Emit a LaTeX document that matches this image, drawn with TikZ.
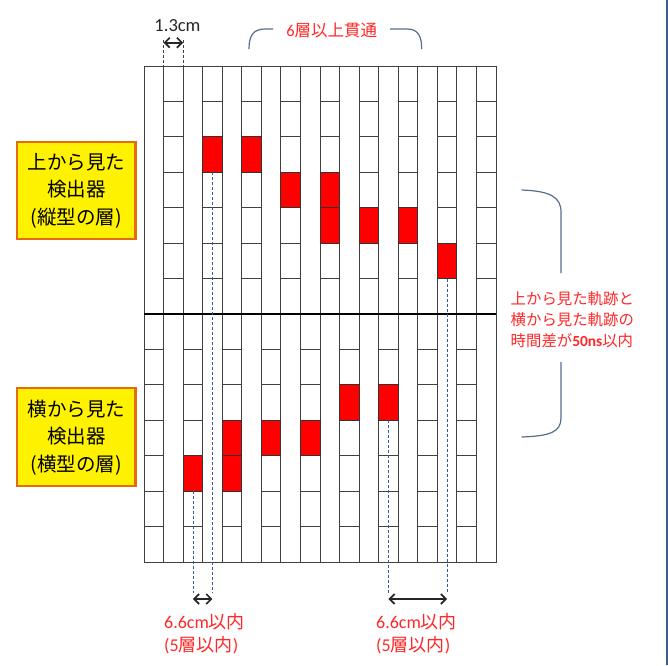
\documentclass[tikz,border=0pt]{standalone}
\usepackage{fontspec}
\newfontfamily\jp{Noto Sans CJK JP}
\newfontfamily\lat{Carlito}
\usetikzlibrary{arrows.meta}
\definecolor{boxorange}{RGB}{228,108,10}
\definecolor{braceblue}{RGB}{85,110,140}
\definecolor{dashblue}{RGB}{60,90,150}
\definecolor{txtred}{RGB}{255,40,40}
\definecolor{edgeblue}{RGB}{56,93,138}
\tikzset{
  gridline/.style={draw=black!75, line width=1pt},
  midline/.style={draw=black, line width=1.5pt},
  hit/.style={fill=red, draw=black!80, line width=1pt},
  track/.style={draw=dashblue, line width=0.7pt, dash pattern=on 3pt off 2pt},
  guide/.style={draw=black!75, line width=0.7pt, dash pattern=on 3pt off 2pt},
  dimarrow/.style={draw=black!85, line width=1.7pt, {Straight Barb[length=5pt,width=10pt]}-{Straight Barb[length=5pt,width=10pt]}},
  bracestyle/.style={draw=braceblue, line width=1.2pt},
  viewbox/.style={draw=boxorange, line width=2.2pt, fill=yellow, minimum width=118.5pt, minimum height=97pt, inner sep=0pt, align=center, font=\jp\fontsize{19.5}{27.5}\selectfont},
  redlabel/.style={text=txtred, inner sep=0pt, align=left}
}
\begin{document}
\begin{tikzpicture}[x=1pt,y=-1pt]
\useasboundingbox (0,0) rectangle (668,665);
\fill[white] (0,0) rectangle (668,665);
\fill[edgeblue] (666,0) rectangle (668,665);
\def\gx{144}\def\dx{19.5556}\def\gy{66}\def\dy{35.4286}\def\my{314}\def\by{562}\def\rx{496}
% vertical strips
\foreach \i in {0,...,18} \draw[gridline] ({\gx+\i*\dx},\gy) -- ({\gx+\i*\dx},\by);
% top half cells (vertical layers)
\foreach \c in {1,3,...,17} \foreach \r in {1,...,6}
  \draw[gridline] ({\gx+\c*\dx},{\gy+\r*\dy}) -- ({\gx+(\c+1)*\dx},{\gy+\r*\dy});
% bottom half cells (horizontal layers)
\foreach \c in {0,2,...,16} \foreach \r in {1,...,6}
  \draw[gridline] ({\gx+\c*\dx},{\my+\r*\dy}) -- ({\gx+(\c+1)*\dx},{\my+\r*\dy});
\draw[gridline] (\gx,\gy) rectangle (\rx,\by);
\draw[midline] (\gx,\my) -- (\rx,\my);
% hit cells
\foreach \c/\r in {3/2,5/2,7/3,9/3,9/4,11/4,13/4,15/5}
  \draw[hit] ({\gx+\c*\dx},{\gy+\r*\dy}) rectangle +(\dx,\dy);
\foreach \c/\r in {2/4,4/3,4/4,6/3,8/3,10/2,12/2}
  \draw[hit] ({\gx+\c*\dx},{\my+\r*\dy}) rectangle +(\dx,\dy);
% track projections
\coordinate (ta) at ({\gx+3.5*\dx},{\gy+3*\dy});
\coordinate (tae) at ({\gx+3.5*\dx},593);
\coordinate (tb) at ({\gx+15.5*\dx},{\gy+6*\dy});
\coordinate (tbe) at ({\gx+15.5*\dx},593);
\coordinate (sa) at ({\gx+2.5*\dx},{\my+5*\dy});
\coordinate (sae) at ({\gx+2.5*\dx},593);
\coordinate (sb) at ({\gx+12.5*\dx},{\my+3*\dy});
\coordinate (sbe) at ({\gx+12.5*\dx},593);
\draw[track] (ta) -- (tae);
\draw[track] (tb) -- (tbe);
\draw[track] (sa) -- (sae);
\draw[track] (sb) -- (sbe);
\coordinate (a1l) at ({\gx+2.5*\dx},599);
\coordinate (a1r) at ({\gx+3.5*\dx},599);
\coordinate (a2l) at ({\gx+12.5*\dx},599);
\coordinate (a2r) at ({\gx+15.5*\dx},599);
\draw[dimarrow] (a1l) -- (a1r);
\draw[dimarrow] (a2l) -- (a2r);
% 1.3cm width
\coordinate (g1t) at ({\gx+\dx},40);
\coordinate (g1b) at ({\gx+\dx},\gy);
\coordinate (g2t) at ({\gx+2*\dx},40);
\coordinate (g2b) at ({\gx+2*\dx},\gy);
\draw[guide] (g1t) -- (g1b);
\draw[guide] (g2t) -- (g2b);
\coordinate (w1) at ({\gx+\dx},42.7);
\coordinate (w2) at ({\gx+2*\dx},42.7);
\draw[dimarrow] (w1) -- (w2);
\node[font=\lat\fontsize{18.5}{20}\selectfont, text=black!85, inner sep=0pt] (wlabel) at (177.5,25.5) {1.3cm};
% top brace
\draw[bracestyle] (249,49) .. controls (249,36) and (253,29) .. (265,29) -- (273,29);
\draw[bracestyle] (390,29) -- (407,29) .. controls (418,29) and (421.7,36) .. (421.7,49);
\node[redlabel, font=\jp\fontsize{16.5}{20}\selectfont] (pen) at (331.7,30) {{\lat 6}層以上貫通};
% right brace
\draw[bracestyle] (521.7,190) .. controls (550,191) and (561,197) .. (561,212) -- (561,273);
\draw[bracestyle] (561,362) -- (561,418) .. controls (561,432) and (550,436) .. (521.7,437);
\node[redlabel, anchor=west, font=\jp\fontsize{15.4}{20.8}\selectfont] (tdiff) at (510.5,319.5)
  {上から見た軌跡と\\横から見た軌跡の\\時間差が{\lat\bfseries 50ns}以内};
% view boxes
\node[viewbox] (topview) at (76.3,190.5) {上から見た\\検出器\\(縦型の層)};
\node[viewbox, minimum height=98pt] (sideview) at (76.3,437.3) {横から見た\\検出器\\(横型の層)};
% bottom labels
\node[redlabel, anchor=west, font=\jp\fontsize{18}{23}\selectfont] (dl1) at (164,633.5)
  {{\lat 6.6cm}以内\\{\lat (5}層以内{\lat )}};
\node[redlabel, anchor=west, font=\jp\fontsize{18}{23}\selectfont] (dl2) at (376,633.5)
  {{\lat 6.6cm}以内\\{\lat (5}層以内{\lat )}};
\end{tikzpicture}
\end{document}
